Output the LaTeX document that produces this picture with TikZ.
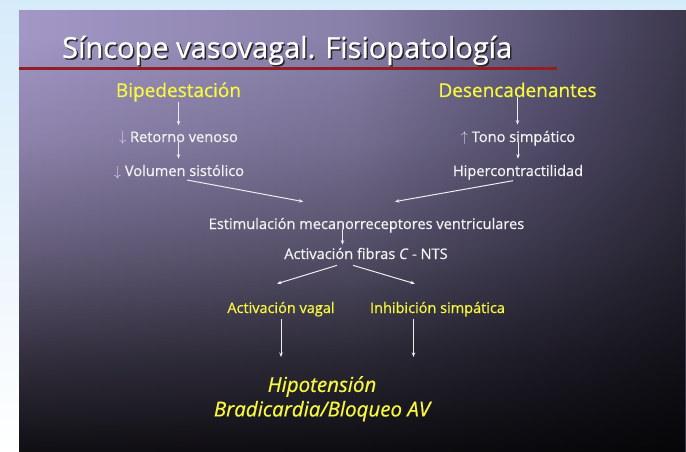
\documentclass[tikz,border=0pt]{standalone}
\usepackage{fontspec}
\setmainfont{Open Sans}[FakeBold=0.6]
\usetikzlibrary{arrows.meta,fadings,calc}
\definecolor{topblue}{HTML}{D6EBFA}
\definecolor{c0}{HTML}{AFA5D2}
\definecolor{c1}{HTML}{A397C6}
\definecolor{c2}{HTML}{8880A8}
\definecolor{c3}{HTML}{5A5474}
\definecolor{c4}{HTML}{2C2938}
\definecolor{c5}{HTML}{151419}
\definecolor{c6}{HTML}{08080A}
\definecolor{yel}{HTML}{F8F840}
\definecolor{txt}{HTML}{F4F4F4}
\definecolor{arrc}{HTML}{EEEEF2}
\definecolor{arrg}{HTML}{D8D4E8}
\definecolor{redl}{HTML}{901E24}
\pgfdeclarehorizontalshading{slidebg}{100bp}{color(0bp)=(c0); color(25bp)=(c1); color(50bp)=(c2); color(65bp)=(c3); color(80bp)=(c4); color(90bp)=(c5); color(100bp)=(c6)}
\pgfdeclareverticalshading{vfadeshade}{100bp}{color(0bp)=(white); color(15bp)=(white); color(25bp)=(white!90!black); color(36bp)=(white!68!black); color(48bp)=(white!38!black); color(60bp)=(white!14!black); color(72bp)=(black); color(100bp)=(black)}
\pgfdeclarefading{vfade}{\pgfuseshading{vfadeshade}}
\begin{document}
\begin{tikzpicture}[x=1pt,y=-1pt,
  every node/.style={inner sep=0pt},
  ttl/.style={font=\fontsize{29}{33}\selectfont, anchor=base west},
  head/.style={font=\fontsize{19}{22}\selectfont, text=yel, anchor=base},
  wt/.style={font=\fontsize{14.6}{17}\selectfont, text=txt, anchor=base},
  yl/.style={font=\fontsize{14.5}{17}\selectfont, text=yel, anchor=base},
  big/.style={font=\fontsize{20.5}{23.5}\selectfont\itshape, text=yel, align=center, anchor=north},
  arr/.style={draw=arrc, line width=1pt, -{Stealth[length=4.5pt,width=3.5pt]}},
  ]
\useasboundingbox (0,0) rectangle (686,452);
\shade[top color=topblue, bottom color=white] (0,0) rectangle (686,452);
\shade[shading=slidebg] (19,11) rectangle (686,452);
\fill[black, path fading=vfade] (19,11) rectangle (686,452);
% title
\node[ttl, text=black!85] (tshadow) at (63.5,59.5) {Síncope vasovagal. Fisiopatología};
\node[ttl, text=white] (title) at (62,58) {Síncope vasovagal. Fisiopatología};
\draw[redl, line width=3pt] (19,69) -- (557,69);
% left column
\node[head] (bip) at (178.5,97) {Bipedestación};
\node[wt] (ret) at (178.5,142) {\textcolor{arrg}{$\downarrow$} Retorno venoso};
\node[wt] (vol) at (179,176) {\textcolor{arrg}{$\downarrow$} Volumen sistólico};
% right column
\node[head] (des) at (517.5,97) {Desencadenantes};
\node[wt] (tono) at (518,142) {\textcolor{arrg}{$\uparrow$} Tono simpático};
\node[wt] (hip) at (518,176) {Hipercontractilidad};
% middle
\node[wt] (est) at (366.5,229) {Estimulación mecanorreceptores ventriculares};
\node[wt] (fib) at (366,259) {Activación fibras \textit{C} - NTS};
\node[yl] (vag) at (281,313) {Activación vagal};
\node[yl] (inh) at (437.5,313) {Inhibición simpática};
\node[big] (out) at (322,376) {Hipotensión\\[1pt]Bradicardia/Bloqueo AV};
% arrows
\draw[arr] (bip.south) -- ([yshift=6pt]bip.south |- ret.north);
\draw[arr] (ret.base) -- ([yshift=6pt]ret.base |- vol.north);
\draw[arr] (des.south) -- ([yshift=6pt]des.south |- tono.north);
\draw[arr] (tono.base) -- ([yshift=6pt]tono.base |- hip.north);
\coordinate (e1) at ($(est.north west)!0.3!(est.north east)+(0,-16)$);
\coordinate (e2) at ($(est.north west)!0.59!(est.north east)+(0,-16)$);
\draw[arr] ([xshift=8pt,yshift=-1pt]vol.south) -- (e1);
\draw[arr] ([xshift=-5pt,yshift=-1pt]hip.south) -- (e2);
\draw[arr] ([xshift=-24pt]est.base) -- ([xshift=-24pt,yshift=3pt]est.base |- fib.north);
\coordinate (f1) at ($(vag.north)+(-4,-18)$);
\coordinate (f2) at ($(inh.north west)+(45,-18)$);
\draw[arr] ([xshift=-29pt,yshift=-6pt]fib.south) -- (f1);
\draw[arr] ([xshift=-13pt,yshift=-6pt]fib.south) -- (f2);
\draw[arr] ([yshift=-2pt]vag.south) -- ([yshift=19pt]vag.south |- out.north);
\draw[arr] ([xshift=-24pt,yshift=-2pt]inh.south) -- ([xshift=-24pt,yshift=19pt]inh.south |- out.north);
\end{tikzpicture}
\end{document}
